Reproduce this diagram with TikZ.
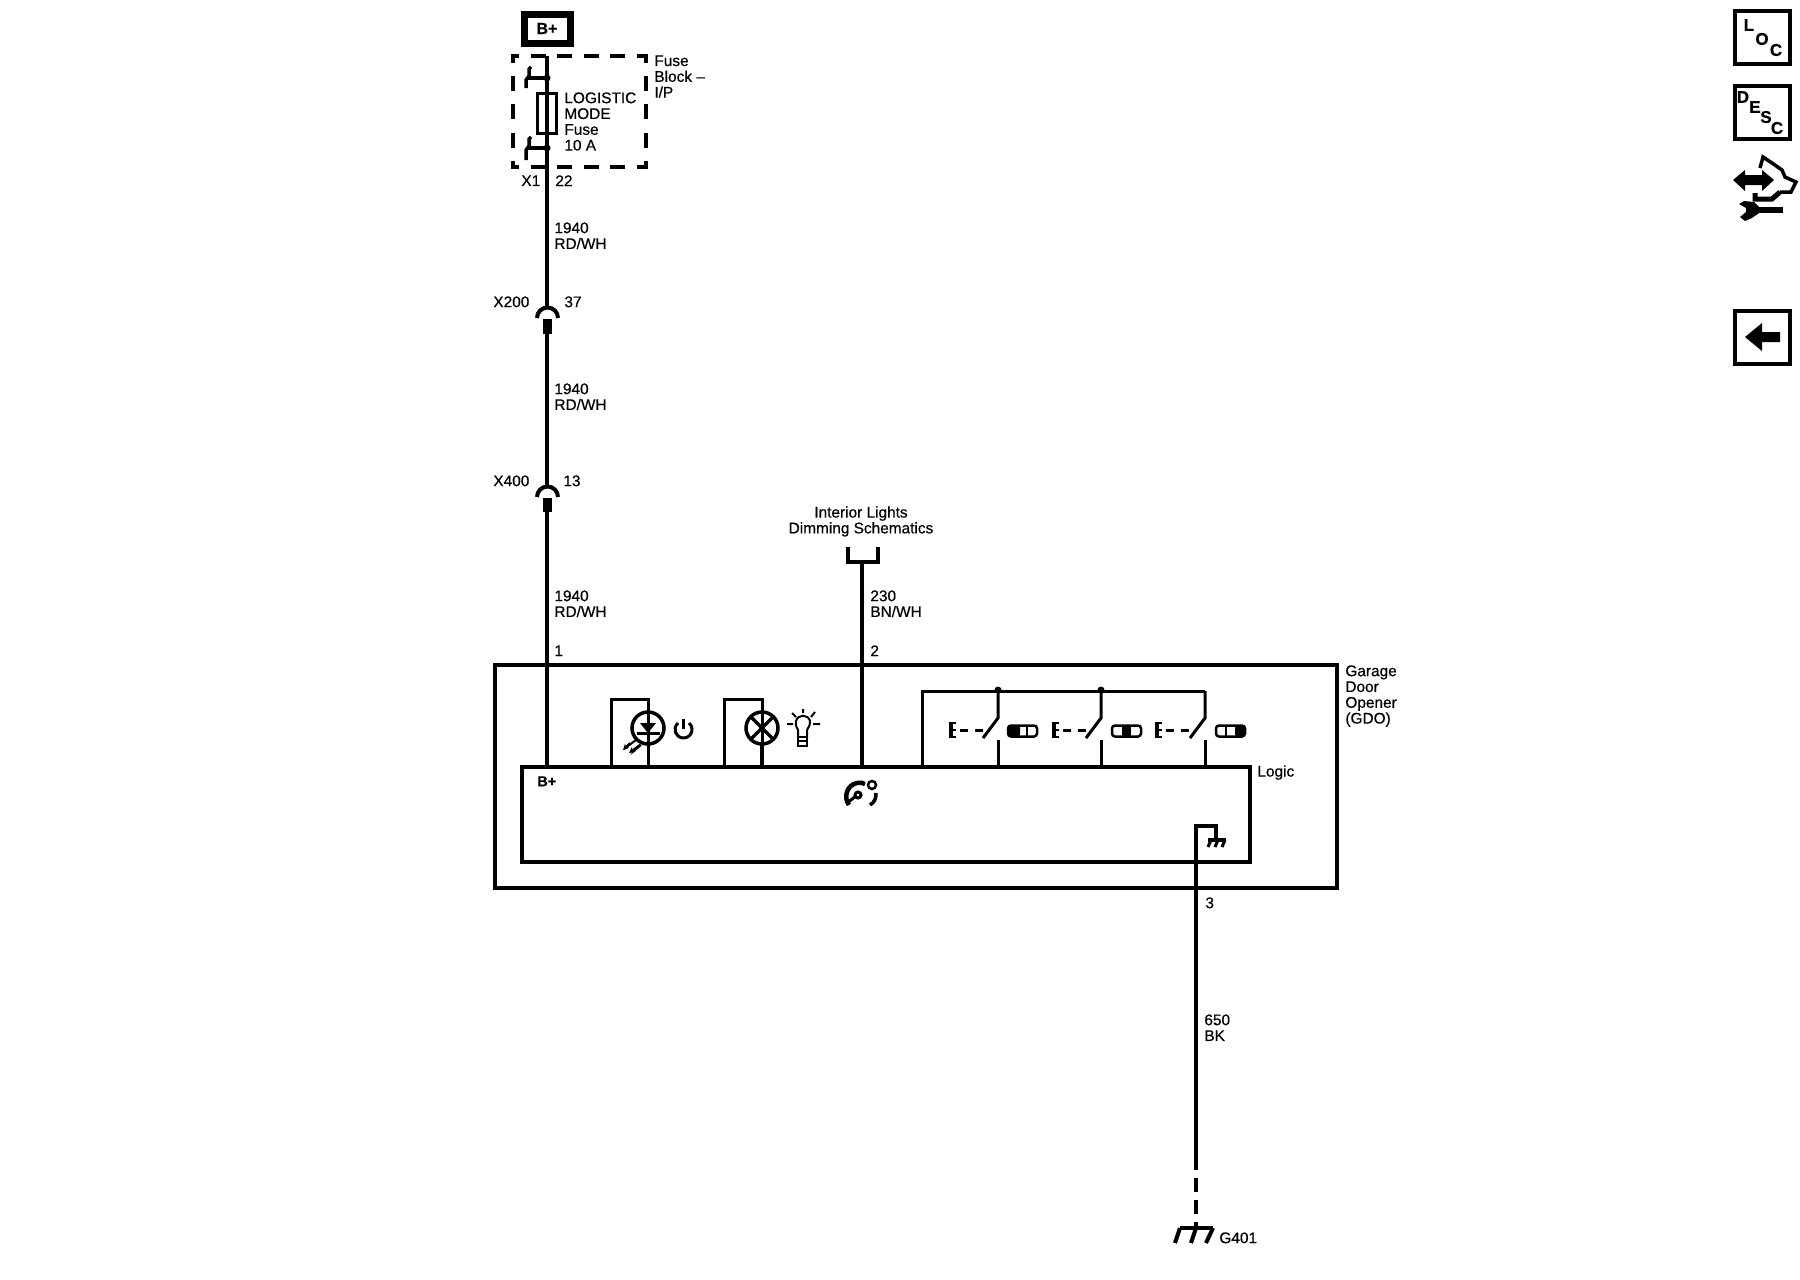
\documentclass[tikz,border=0pt]{standalone}
\usepackage{fontspec}
\setmainfont{Liberation Sans}[FakeBold=0.5]
\usetikzlibrary{arrows.meta}

\tikzset{
  wire/.style={line width=2pt},
  thin wire/.style={line width=1.5pt},
  glyph/.style={line width=1pt},
  box/.style={draw, line width=2pt, inner sep=0pt, outer sep=0pt},
  lbl/.style={anchor=north west, inner sep=0pt, align=left, font=\fontsize{7.7}{7.9}\selectfont},
  mid lbl/.style={anchor=north, inner sep=0pt, align=center, font=\fontsize{7.7}{7.9}\selectfont},
  tag/.style={inner sep=0pt, font=\bfseries\fontsize{8.5}{9}\selectfont},
}

\begin{document}
\begin{tikzpicture}[x=0.5pt, y=-0.5pt]
  \useasboundingbox (0,0) rectangle (1800,1280);

  % boxes
  \node [box, line width=3.5pt, minimum width=23pt, minimum height=14.5pt, tag, font=\bfseries\fontsize{8}{8}\selectfont] (bplus) at (547,28.5) {B+};
  \node [box, minimum width=421pt, minimum height=111.5pt] (gdo) at (916,776.5) {};
  \node [box, minimum width=364pt, minimum height=47.5pt] (logic) at (886,814.5) {};
  \draw [line width=2pt, dash pattern=on 7.5pt off 5.8pt, dash phase=3.5pt] (511,56) -- (648,56);
  \draw [line width=2pt, dash pattern=on 7.5pt off 5.8pt, dash phase=3.5pt] (511,167) -- (648,167);
  \draw [line width=2pt, dash pattern=on 7.5pt off 6.6pt, dash phase=3.5pt] (513,55) -- (513,168);
  \draw [line width=2pt, dash pattern=on 7.5pt off 6.6pt, dash phase=3.5pt] (646,55) -- (646,168);

  % wire coordinates
  \coordinate (fusetop) at (547,56);
  \coordinate (x200a) at (547,308);
  \coordinate (x200b) at (547,319);
  \coordinate (x200c) at (547,334);
  \coordinate (x400a) at (547,487);
  \coordinate (x400b) at (547,498);
  \coordinate (x400c) at (547,512);
  \coordinate (dim) at (862,562);
  \coordinate (gnda) at (1196,826);
  \coordinate (gndb) at (1216,826);
  \coordinate (gndc) at (1216,840);
  \coordinate (gndd) at (1196,1170);
  \coordinate (gnde) at (1196,1228);

  % main wires
  \draw [wire] (fusetop) -- (x200a);
  \draw [wire] (x200c) -- (x400a);
  \draw [wire] (x400c) -- (x400c |- logic.north);
  \draw [wire] (dim) -- (dim |- logic.north);
  \draw [wire] (848,547) -- (848,562) -- (878,562) -- (878,547);
  \draw [wire] (gndc) -- (gndb) -- (gnda) -- (gndd);
  \draw [wire, dash pattern=on 7pt off 4pt] (1196,1178) -- (gnde);

  % connectors
  \draw [wire] (537,318) arc [start angle=180, end angle=0, radius=5.25pt];
  \draw [line width=4.5pt] (x200b) -- (x200c);
  \draw [wire] (537,497) arc [start angle=180, end angle=0, radius=5.25pt];
  \draw [line width=4.5pt] (x400b) -- (x400c);

  % fuse
  \draw [thin wire] (537.5,93) rectangle (556.5,133);
  \draw [line width=1.75pt] (531,67) -- (529,69) -- (529,76) -- (526,80) -- (526,88);
  \draw [line width=1.75pt] (527,78) -- (547,78);
  \fill (547,78) circle [radius=1.75pt];
  \draw [line width=1.75pt] (531,137) -- (529,139) -- (529,146) -- (526,150) -- (526,160);
  \draw [line width=1.75pt] (527,148) -- (547,148);
  \fill (547,148) circle [radius=1.75pt];

  % ground
  \draw [wire] (1180,1228) -- (1213,1228);
  \draw [wire] (1180,1228) -- (1175,1243);
  \draw [wire] (1196,1228) -- (1191,1243);
  \draw [wire] (1213,1228) -- (1206,1243);
  \draw [line width=1.75pt] (1208,840) -- (1226,840);
  \draw [line width=1.5pt] (1211,840) -- (1208,847);
  \draw [line width=1.5pt] (1218,840) -- (1215,847);
  \draw [line width=1.5pt] (1225,840) -- (1222,847);

  % led
  \draw [thin wire] (648,767) -- (648,699) -- (611,699) -- (611,767);
  \draw [line width=1.75pt] (648,728) circle [radius=8pt];
  \fill (640,723) -- (656,723) -- (648,733) -- cycle;
  \draw [thin wire] (637,733) -- (660,733);
  \draw [glyph, -{Stealth[length=3pt,width=3pt]}] (636,740) -- (628,746) -- (630,743) -- (623,750);
  \draw [glyph, -{Stealth[length=3pt,width=3pt]}] (641,745) -- (635,750) -- (637,747) -- (629,753);
  \draw [thin wire] (683,719) -- (683,729);
  \draw [thin wire] (689,723) arc [start angle=50, end angle=-230, radius=4.25pt];

  % lamp
  \draw [thin wire] (762,767) -- (762,699) -- (724,699) -- (724,767);
  \draw [line width=2pt] (762,767) -- (762,744);
  \draw [line width=1.75pt] (762,728) circle [radius=8pt] (751,717) -- (773,739) (773,717) -- (751,739);
  \draw [glyph] (803,709) -- (803,713) (787,724) -- (793,724) (813,724) -- (820,724) (792,713) -- (796,717) (815,712) -- (811,717);
  \draw [glyph] (798,737) -- (798,730) .. controls (796,726) and (795,724) .. (796,721) .. controls (798,714) and (808,714) .. (810,721) .. controls (811,724) and (809,726) .. (807,730) -- (807,737);
  \draw [glyph] (798,737) rectangle (807,746) (798,741) -- (807,741);

  % gauge
  \draw [line width=2.25pt] (849,805) .. controls (843,797) and (847,785) .. (857,783) .. controls (860,782) and (863,783) .. (865,784);
  \draw [line width=1.5pt] (858,795) circle [radius=1.5pt] (847,803) -- (856,796);
  \draw [line width=1.25pt] (872,785) circle [radius=2pt];
  \draw [line width=1.75pt] (876,793) .. controls (876,798) and (875,802) .. (870,805);

  % switches
  \draw [thin wire] (922,767) -- (922,691) -- (1205,691);
  \draw [thin wire] (998,691) -- (998,718) -- (983,738);
  \fill (998,690) circle [radius=1.75pt];
  \draw [thin wire] (998,740) -- (998,767);
  \draw [thin wire] (1101,691) -- (1101,718) -- (1086,738);
  \fill (1101,690) circle [radius=1.75pt];
  \draw [thin wire] (1101,740) -- (1101,767);
  \draw [thin wire] (1205,691) -- (1205,718) -- (1190,738);
  \draw [thin wire] (1205,740) -- (1205,767);

  \draw [line width=2.25pt] (951,722) -- (951,738);
  \draw [glyph] (951,723) -- (956,723) (951,730) -- (956,730) (951,737) -- (956,737);
  \draw [thin wire, dash pattern=on 4pt off 3.5pt] (960,730) -- (985,730);
  \draw [line width=2.25pt] (1054,722) -- (1054,738);
  \draw [glyph] (1054,723) -- (1059,723) (1054,730) -- (1059,730) (1054,737) -- (1059,737);
  \draw [thin wire, dash pattern=on 4pt off 3.5pt] (1063,730) -- (1088,730);
  \draw [line width=2.25pt] (1157,722) -- (1157,738);
  \draw [glyph] (1157,723) -- (1162,723) (1157,730) -- (1162,730) (1157,737) -- (1162,737);
  \draw [thin wire, dash pattern=on 4pt off 3.5pt] (1166,730) -- (1191,730);

  % indicators
  \fill [rounded corners=1.5pt] (1008,725) rectangle (1020,737);
  \draw [line width=1.25pt, rounded corners=1.5pt] (1008,725.5) rectangle (1037,736.5);
  \draw [line width=1.25pt] (1027,725) -- (1027,737);
  \fill (1122,725) rectangle (1131,737);
  \draw [line width=1.25pt, rounded corners=1.5pt] (1112,725.5) rectangle (1141,736.5);
  \fill [rounded corners=1.5pt] (1235,725) rectangle (1245,737);
  \draw [line width=1.25pt, rounded corners=1.5pt] (1216,725.5) rectangle (1245,736.5);
  \draw [line width=1.25pt] (1226,725) -- (1226,737);

  % input labels
  \node [lbl] (fblabel) at (654,55) {Fuse\\Block --\\I/P};
  \node [lbl] (fuselabel) at (564,92) {LOGISTIC\\MODE\\Fuse\\10 A};
  \node [lbl] (xone) at (521,175) {X1};
  \node [lbl] (pin22) at (555,175) {22};
  \node [lbl] (wirea) at (554,222) {1940\\RD/WH};
  \node [lbl] (xtwo) at (493,296) {X200};
  \node [lbl] (pin37) at (564,296) {37};
  \node [lbl] (wireb) at (554,383) {1940\\RD/WH};
  \node [lbl] (xfour) at (493,475) {X400};
  \node [lbl] (pin13) at (563,475) {13};
  \node [lbl] (wirec) at (554,590) {1940\\RD/WH};
  \node [lbl] (pin1) at (554,645) {1};
  \node [mid lbl] (dimlabel) at (861,506) {Interior Lights\\Dimming Schematics};
  \node [lbl] (wired) at (870,590) {230\\BN/WH};
  \node [lbl] (pin2) at (870,645) {2};
  \node [lbl] (gdolabel) at (1345,665) {Garage\\Door\\Opener\\(GDO)};
  \node [lbl] (logiclabel) at (1257,765) {Logic};
  \node [lbl, font=\bfseries\fontsize{7.2}{8}\selectfont] (blabel) at (537,776) {B+};
  \node [lbl] (pin3) at (1205,897) {3};
  \node [lbl] (wiree) at (1204,1014) {650\\BK};
  \node [lbl] (gfour) at (1219,1232) {G401};

  % side icons
  \draw [line width=2pt] (1735,11) rectangle (1790,64);
  \node [tag] (locl) at (1749,25) {L};
  \node [tag] (loco) at (1762,39) {O};
  \node [tag] (locc) at (1776,50) {C};
  \draw [line width=2pt] (1735,86) rectangle (1790,139);
  \node [tag] (descd) at (1743,97) {D};
  \node [tag] (desce) at (1755,107) {E};
  \node [tag] (descs) at (1766,117) {S};
  \node [tag] (descc) at (1777,128) {C};
  \fill (1733,180) -- (1745,170) -- (1745,175) -- (1762,175) -- (1762,170) -- (1774,180) -- (1762,191) -- (1762,185) -- (1745,185) -- (1745,191) -- cycle;
  \draw [line width=1.75pt] (1760,168) -- (1763,157) -- (1772,163) -- (1782,170) -- (1785,177) -- (1796,182) -- (1791,192) -- (1780,192);
  \draw [line width=2.5pt] (1780,192) -- (1772,199) -- (1755,199) -- (1755,193);
  \draw [line width=3pt] (1750,210) -- (1783,210);
  \fill (1739,204) -- (1744,201) -- (1754,202) -- (1759,207) -- (1759,213) -- (1752,218) -- (1745,221) -- (1740,217) -- (1746,212) -- (1746,208) -- cycle;
  \draw [line width=2pt] (1735,311) rectangle (1790,364);
  \fill (1745,337) -- (1762,323) -- (1762,332) -- (1780,332) -- (1780,342) -- (1762,342) -- (1762,351) -- cycle;
\end{tikzpicture}
\end{document}
